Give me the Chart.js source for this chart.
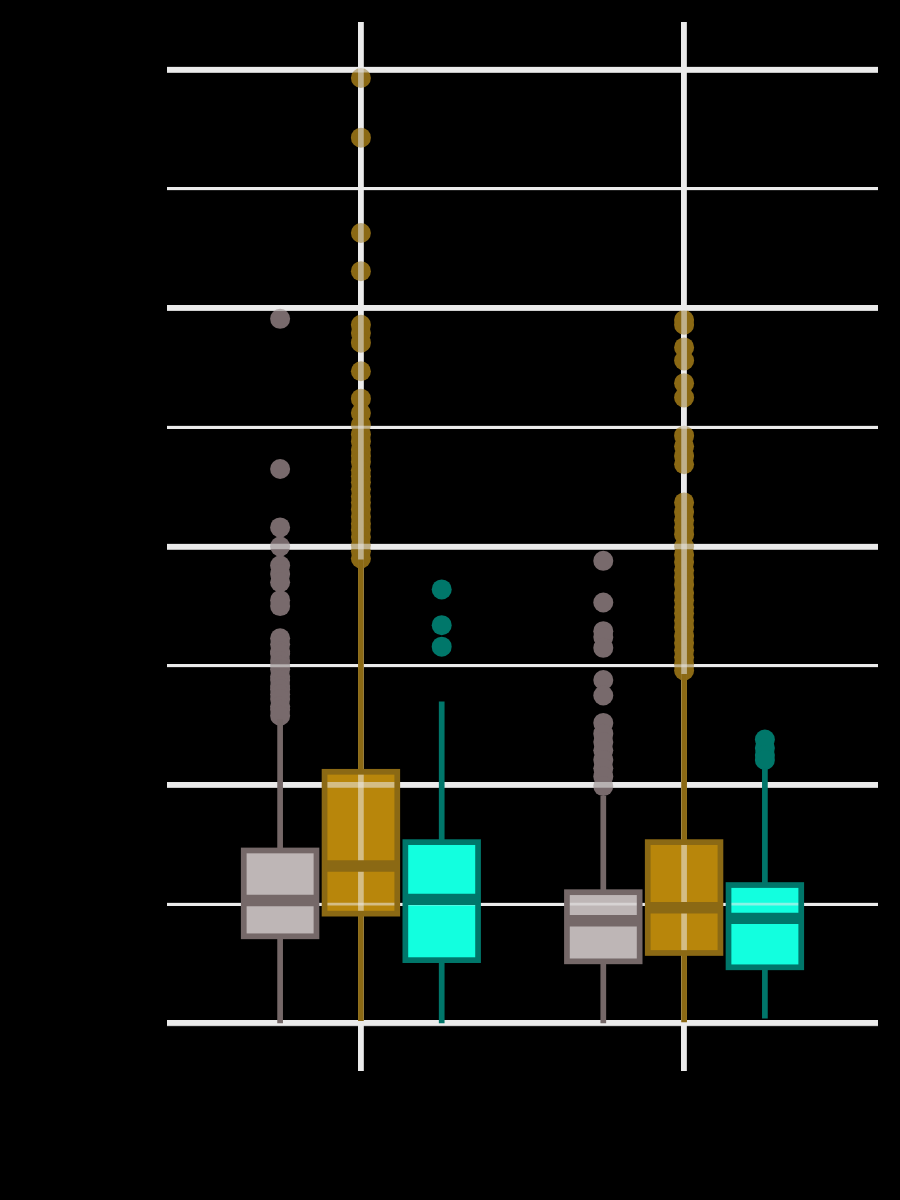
<!DOCTYPE html>
<html>
<head>
<meta charset="utf-8">
<script src="https://cdn.jsdelivr.net/npm/chart.js@4.4.1/dist/chart.umd.min.js"></script>
<style>
  html, body { margin: 0; padding: 0; background: #000; }
  canvas { display: block; }
</style>
</head>
<body>
<canvas id="c" width="900" height="1200"></canvas>
<script>
// ---------- DATA ----------
const groups = ['Group 1', 'Group 2'];
const seriesNames = ['Series 1', 'Series 2', 'Series 3'];
const yTicks = [0, 1, 2, 3, 4, 5, 6, 7, 8];

// five-number summaries per series, one value per group
const s1Min = [0.00, 0.00];
const s1Q1  = [0.73, 0.52];
const s1Med = [1.03, 0.86];
const s1Q3  = [1.45, 1.10];
const s1Max = [2.55, 1.91];

const s2Min = [0.02, 0.01];
const s2Q1  = [0.92, 0.59];
const s2Med = [1.32, 0.97];
const s2Q3  = [2.11, 1.52];
const s2Max = [3.89, 2.93];

const s3Min = [0.00, 0.04];
const s3Q1  = [0.53, 0.47];
const s3Med = [1.04, 0.88];
const s3Q3  = [1.52, 1.16];
const s3Max = [2.70, 2.14];

// outliers per series, per group
const s1OutG1 = [5.91, 4.65, 4.16, 4.00, 3.84, 3.77, 3.70, 3.55, 3.50, 3.23, 3.18, 3.12, 3.10, 3.04, 3.00, 2.97, 2.91, 2.88, 2.83, 2.80, 2.76, 2.72, 2.66, 2.63, 2.58];
const s1OutG2 = [3.88, 3.53, 3.29, 3.24, 3.15, 2.88, 2.75, 2.52, 2.43, 2.36, 2.29, 2.21, 2.14, 2.07, 1.99];
const s2OutG1 = [7.93, 7.43, 6.63, 6.31, 5.86, 5.79, 5.71, 5.47, 5.24, 5.12, 5.02, 4.94, 4.88, 4.81, 4.76, 4.71, 4.64, 4.59, 4.54, 4.48, 4.42, 4.37, 4.31, 4.25, 4.19, 4.14, 4.08, 4.01, 3.96, 3.90];
const s2OutG2 = [5.90, 5.86, 5.67, 5.56, 5.37, 5.25, 4.93, 4.84, 4.76, 4.69, 4.37, 4.29, 4.22, 4.16, 4.10, 4.00, 3.93, 3.87, 3.80, 3.74, 3.68, 3.61, 3.55, 3.49, 3.44, 3.38, 3.32, 3.25, 3.19, 3.13, 3.07, 3.01, 2.96];
const s3OutG1 = [3.64, 3.34, 3.16];
const s3OutG2 = [2.38, 2.31, 2.25, 2.21];

// ---------- STYLE / LAYOUT ----------
const series = [
  { name: seriesNames[0], min: s1Min, q1: s1Q1, med: s1Med, q3: s1Q3, max: s1Max, out: [s1OutG1, s1OutG2],
    stroke: '#756868', fill: '#beb6b6', point: '#786a6c' },
  { name: seriesNames[1], min: s2Min, q1: s2Q1, med: s2Med, q3: s2Q3, max: s2Max, out: [s2OutG1, s2OutG2],
    stroke: '#8b6914', fill: '#b8860b', point: '#8b6914' },
  { name: seriesNames[2], min: s3Min, q1: s3Q1, med: s3Med, q3: s3Q3, max: s3Max, out: [s3OutG1, s3OutG2],
    stroke: '#00766a', fill: '#12ffdf', point: '#00776a' }
];
const dodge = [-0.25, 0, 0.25];
const boxWidth = 0.225;
const lw = 5.7;
const gridColor = '#ebebeb';

const datasets = series.map((s, si) => {
  const pts = [];
  groups.forEach((g, gi) => {
    s.out[gi].forEach(v => pts.push({ x: gi + dodge[si], y: v }));
  });
  return {
    label: s.name,
    data: pts,
    pointRadius: 10,
    pointHoverRadius: 10,
    pointBorderWidth: 0,
    backgroundColor: s.point,
    borderColor: s.point
  };
});

function boxGeom(chart, si, gi) {
  const xs = chart.scales.x, ys = chart.scales.y;
  const s = series[si];
  const cx = gi + dodge[si];
  return {
    xc: xs.getPixelForValue(cx),
    xl: xs.getPixelForValue(cx - boxWidth / 2),
    xr: xs.getPixelForValue(cx + boxWidth / 2),
    yMin: ys.getPixelForValue(s.min[gi]),
    yQ1: ys.getPixelForValue(s.q1[gi]),
    yMed: ys.getPixelForValue(s.med[gi]),
    yQ3: ys.getPixelForValue(s.q3[gi]),
    yMax: ys.getPixelForValue(s.max[gi])
  };
}

const boxPlugin = {
  id: 'boxes',
  beforeDatasetsDraw(chart) {
    const ctx = chart.ctx;
    ctx.save();
    series.forEach((s, si) => {
      groups.forEach((g, gi) => {
        const b = boxGeom(chart, si, gi);
        ctx.fillStyle = s.fill;
        ctx.fillRect(b.xl, b.yQ3, b.xr - b.xl, b.yQ1 - b.yQ3);
      });
    });
    ctx.restore();
  },
  afterDatasetsDraw(chart) {
    const ctx = chart.ctx;
    const ca = chart.chartArea;
    const xs = chart.scales.x, ys = chart.scales.y;
    ctx.save();
    // translucent grid overlay over fills and points
    ctx.strokeStyle = 'rgba(235,235,235,0.55)';
    ys.ticks.forEach(t => {
      const y = ys.getPixelForValue(t.value);
      ctx.lineWidth = (t.value % 2 === 0) ? 5.7 : 2.9;
      ctx.beginPath(); ctx.moveTo(ca.left, y); ctx.lineTo(ca.right, y); ctx.stroke();
    });
    xs.ticks.forEach(t => {
      const x = xs.getPixelForValue(t.value);
      ctx.lineWidth = 5.7;
      ctx.beginPath(); ctx.moveTo(x, ca.top); ctx.lineTo(x, ca.bottom); ctx.stroke();
    });
    // whiskers, borders, medians
    ctx.lineCap = 'butt';
    series.forEach((s, si) => {
      groups.forEach((g, gi) => {
        const b = boxGeom(chart, si, gi);
        ctx.strokeStyle = s.stroke;
        ctx.lineWidth = lw;
        ctx.beginPath();
        ctx.moveTo(b.xc, b.yQ3); ctx.lineTo(b.xc, b.yMax);
        ctx.moveTo(b.xc, b.yQ1); ctx.lineTo(b.xc, b.yMin);
        ctx.stroke();
        ctx.strokeRect(b.xl, b.yQ3, b.xr - b.xl, b.yQ1 - b.yQ3);
        ctx.lineWidth = lw * 2;
        ctx.beginPath();
        ctx.moveTo(b.xl, b.yMed); ctx.lineTo(b.xr, b.yMed);
        ctx.stroke();
      });
    });
    ctx.restore();
  }
};

new Chart(document.getElementById('c'), {
  type: 'scatter',
  data: { datasets },
  plugins: [boxPlugin],
  options: {
    responsive: false,
    animation: false,
    events: [],
    layout: { padding: { left: 167, right: 22, top: 22, bottom: 129 } },
    plugins: { legend: { display: false }, tooltip: { enabled: false } },
    scales: {
      x: {
        type: 'linear',
        min: -0.6, max: 1.6,
        afterBuildTicks: (scale) => { scale.ticks = groups.map((g, i) => ({ value: i, label: g })); },
        ticks: { display: false },
        border: { display: false },
        grid: { color: gridColor, lineWidth: 5.7, drawTicks: false }
      },
      y: {
        type: 'linear',
        min: -0.4, max: 8.4,
        afterBuildTicks: (scale) => { scale.ticks = yTicks.map(v => ({ value: v })); },
        ticks: { display: false },
        border: { display: false },
        grid: {
          color: gridColor,
          drawTicks: false,
          lineWidth: (c) => (c.tick && c.tick.value % 2 === 0) ? 5.7 : 2.9
        }
      }
    }
  }
});
</script>
</body>
</html>
